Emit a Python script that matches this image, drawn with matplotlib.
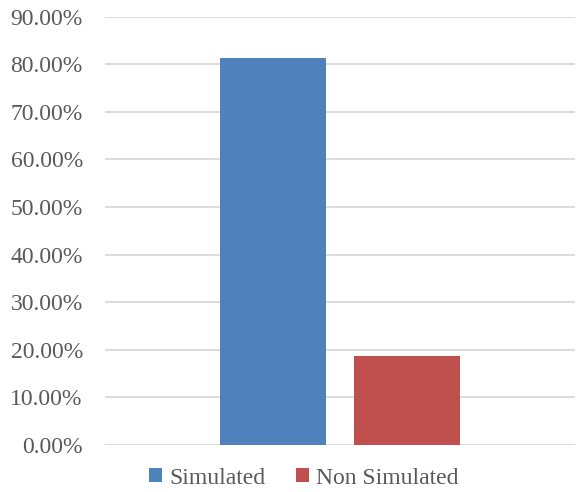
import matplotlib.pyplot as plt
from matplotlib.ticker import FuncFormatter

# share of participants per group
series = ['Simulated', 'Non Simulated']
values = [0.8125, 0.1875]
colors = ['#4F81BD', '#C0504D']

plt.rcParams['font.family'] = ['Liberation Serif', 'DejaVu Serif']

fig = plt.figure(figsize=(5.76, 4.92), dpi=100)
ax = fig.add_axes([0.1823, 0.0955, 0.8160, 0.8705])

width = 0.2255
offsets = [-0.1426, 0.1426]
for name, v, c, off in zip(series, values, colors, offsets):
    ax.bar(off, v, width=width, color=c, label=name, zorder=3)

ax.set_xlim(-0.5, 0.5)
ax.set_ylim(0, 0.9)
ax.set_yticks([i / 10 for i in range(10)])
ax.yaxis.set_major_formatter(FuncFormatter(lambda y, _: '%.2f%%' % (y * 100)))
ax.set_xticks([])
ax.grid(axis='y', color='#d9d9d9', linewidth=1.3, zorder=0)
for s in ax.spines.values():
    s.set_visible(False)
ax.tick_params(axis='y', length=0, pad=16, labelsize=17, labelcolor='#595959')

fig.legend(loc='center', bbox_to_anchor=(0.527, 0.028), ncol=2, frameon=False,
           fontsize=17, labelcolor='#595959', handlelength=0.55, handleheight=0.55,
           handletextpad=0.3, columnspacing=1.3, borderpad=0)

fig.savefig('out.png', dpi=100)
